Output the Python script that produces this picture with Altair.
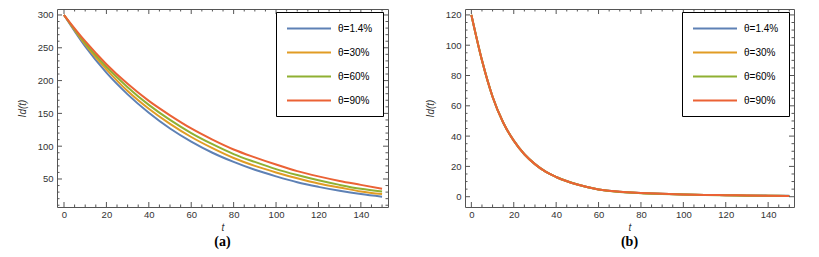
import altair as alt
import pandas as pd

# ---------------- data ----------------
LABELS = ["θ=1.4%", "θ=30%", "θ=60%", "θ=90%"]
COLORS = ["#5E81B5", "#E19C24", "#8FB032", "#EB6235"]

# panel (a)
T_A = [0, 10, 20, 30, 40, 50, 60, 70, 80, 90, 100, 110, 120, 130, 140, 150]
A_BLUE = [300, 252, 212, 179, 151, 127, 107, 90, 76, 64, 54, 45, 38, 32, 27, 23]
A_ORANGE = [300, 255, 217, 184, 157, 134, 114, 97, 82, 70, 60, 51, 43, 37, 31, 27]
A_GREEN = [300, 257, 221, 190, 163, 140, 120, 103, 88, 76, 65, 56, 48, 41, 35, 31]
A_RED = [300, 260, 225, 195, 169, 147, 127, 110, 95, 83, 72, 62, 54, 47, 41, 35]

# panel (b)
T_B = [0, 5, 10, 15, 20, 25, 30, 35, 40, 50, 60, 70, 80, 90, 100, 110, 120, 130, 140, 150]
B_BLUE = [120, 90, 66, 49, 37, 28, 21.5, 16.5, 13, 8, 4.8, 3.3, 2.5, 1.9, 1.5, 1.2, 1.0, 0.8, 0.7, 0.6]
B_ORANGE = [120, 90, 66, 49, 37, 28, 21.5, 16.5, 13, 8, 4.8, 3.2, 2.4, 1.9, 1.5, 1.2, 1.0, 0.8, 0.6, 0.5]
B_GREEN = [120, 90, 66, 49, 37, 28, 21.5, 16.5, 13, 8, 4.7, 3.1, 2.3, 1.8, 1.4, 1.1, 0.9, 0.7, 0.6, 0.5]
B_RED = [120, 90, 66, 49, 37, 28, 21.5, 16.5, 13, 8, 4.8, 3.3, 2.5, 1.9, 1.5, 1.2, 1.0, 0.8, 0.6, 0.5]

# axis ticks
X_MAJOR = [0, 20, 40, 60, 80, 100, 120, 140]
X_TICKS = list(range(0, 151, 5))
A_Y_MAJOR = [50, 100, 150, 200, 250, 300]
A_Y_TICKS = list(range(10, 301, 10))
B_Y_MAJOR = [0, 20, 40, 60, 80, 100, 120]
B_Y_TICKS = list(range(0, 121, 5))

FRAME = "#555555"
TXT = "#333333"
SANS = "Liberation Sans"


def long_df(t, series):
    rows = []
    for lab, vals in zip(LABELS, series):
        for tt, v in zip(t, vals):
            rows.append({"t": tt, "v": v, "s": lab})
    return pd.DataFrame(rows)


def panel(df, xdom, ydom, ymajor, yticks, ymajor_step, W, H, lx, title):
    xs = alt.Scale(domain=xdom, nice=False, zero=False)
    ys = alt.Scale(domain=ydom, nice=False, zero=False)
    xaxis = alt.Axis(values=X_MAJOR, title="t", ticks=False, tickSize=0, domain=False,
                     grid=False, labelPadding=2, titlePadding=4)
    yaxis = alt.Axis(values=ymajor, title="Id(t)", ticks=False, tickSize=0, domain=False,
                     grid=False, labelPadding=4, titlePadding=10)

    lines = alt.Chart(df).mark_line(strokeWidth=2, interpolate="monotone", clip=True).encode(
        x=alt.X("t:Q", scale=xs, axis=xaxis),
        y=alt.Y("v:Q", scale=ys, axis=yaxis),
        color=alt.Color("s:N", sort=LABELS,
                        scale=alt.Scale(domain=LABELS, range=COLORS),
                        legend=alt.Legend(title=None, orient="none", legendX=lx, legendY=3,
                                          symbolType="M-1,0H7", symbolSize=121,
                                          symbolStrokeWidth=2, strokeColor="black",
                                          fillColor="white", padding=10, rowPadding=12,
                                          labelFont=SANS, labelFontSize=10, labelColor="black",
                                          labelOffset=39)),
    )

    xt = pd.DataFrame({"v": X_TICKS})
    yt = pd.DataFrame({"v": yticks})
    xlen = "datum.v % 20 === 0 ? 10 : 5"
    ylen = "datum.v % " + str(ymajor_step) + " === 0 ? 10 : 5"

    def xtick(pos):
        return alt.Chart(xt).transform_calculate(len=xlen).mark_tick(
            clip=True, orient="vertical", color=FRAME, thickness=1, opacity=1).encode(
            x=alt.X("v:Q", scale=xs, axis=xaxis, title="t"),
            y=alt.value(pos),
            size=alt.Size("len:Q", scale=None),
        )

    def ytick(pos):
        return alt.Chart(yt).transform_calculate(len=ylen).mark_tick(
            clip=True, orient="horizontal", color=FRAME, thickness=1, opacity=1).encode(
            y=alt.Y("v:Q", scale=ys, axis=yaxis, title="Id(t)"),
            x=alt.value(pos),
            size=alt.Size("len:Q", scale=None),
        )

    return alt.layer(lines, xtick(0), xtick(H), ytick(0), ytick(W)).properties(
        width=W, height=H,
        title=alt.TitleParams(title, orient="bottom", font="Liberation Serif", fontSize=14,
                              fontWeight="bold", color="black", offset=2, anchor="middle"),
    )


H = 198
left = panel(long_df(T_A, [A_BLUE, A_ORANGE, A_GREEN, A_RED]),
             [-3.3, 152.8], [7.3, 309.1], A_Y_MAJOR, A_Y_TICKS, 50, 331, H, 219, "(a)")
right = panel(long_df(T_B, [B_BLUE, B_ORANGE, B_GREEN, B_RED]),
              [-3.0, 152.2], [-6.8, 123.9], B_Y_MAJOR, B_Y_TICKS, 20, 329, H, 217, "(b)")

chart = alt.hconcat(left, right, spacing=77, bounds="flush").resolve_legend(
    color="independent"
).properties(
    padding={"left": 8, "top": 0, "right": 5, "bottom": 5},
).configure_view(
    stroke=FRAME, strokeWidth=1
).configure_axis(
    labelFont=SANS, labelFontSize=9.5, labelColor=TXT,
    titleFont=SANS, titleFontSize=10, titleFontStyle="italic", titleFontWeight="normal",
    titleColor=TXT,
)

chart.save("out.html", embed_options={"renderer": "svg", "actions": False})
